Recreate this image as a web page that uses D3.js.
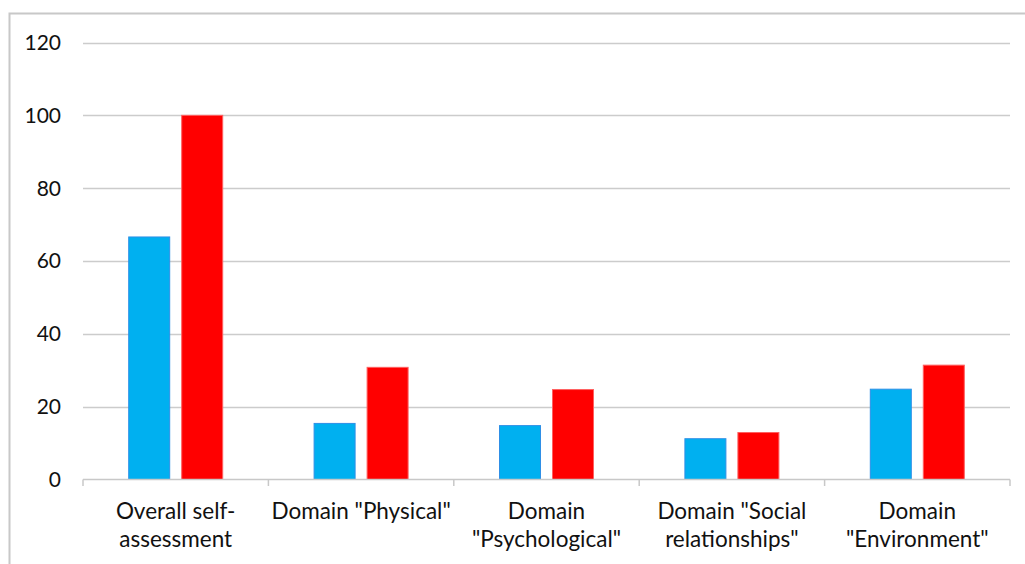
<!DOCTYPE html>
<html>
<head>
<meta charset="utf-8">
<script src="https://cdn.jsdelivr.net/npm/d3@7"></script>
<style>
  body { margin: 0; background: #fff; }
  svg text { font-family: Lato, "Open Sans", sans-serif; fill: #111; }
</style>
</head>
<body>
<script>
// chart data
var categories = [
  ["Overall self-", "assessment"],
  ["Domain \"Physical\""],
  ["Domain", "\"Psychological\""],
  ["Domain \"Social", "relationships\""],
  ["Domain", "\"Environment\""]
];
var seriesBlue = [66.6, 15.4, 14.8, 11.2, 24.8];
var seriesRed = [100, 30.8, 24.7, 12.9, 31.4];
var yTicks = [0, 20, 40, 60, 80, 100, 120];

var width = 1025,
    height = 564;

var svg = d3.select("body")
            .append("svg")
            .attr("width", width)
            .attr("height", height);

// outer frame (only top and left edges show)
svg.append("rect")
    .attr("x", 9.5)
    .attr("y", 13.5)
    .attr("width", 1030)
    .attr("height", 600)
    .style("fill", "none")
    .style("stroke", "#c8c8c8")
    .style("stroke-width", 2);

var x = d3.scaleBand()
    .domain(d3.range(categories.length))
    .range([83, 1010]);

var y = d3.scaleLinear()
    .domain([0, 120])
    .range([479.5, 42.5]);

// gridlines
svg.append("g")
    .selectAll("line")
    .data(yTicks.slice(1))
    .enter()
    .append("line")
    .attr("x1", 83)
    .attr("x2", 1010)
    .attr("y1", function(d) { return Math.round(y(d)) + 0.5; })
    .attr("y2", function(d) { return Math.round(y(d)) + 0.5; })
    .style("stroke", "#cccccc")
    .style("stroke-width", 1.5);

// y labels
svg.append("g")
    .selectAll("text")
    .data(yTicks)
    .enter()
    .append("text")
    .attr("x", 61)
    .attr("y", function(d) { return y(d); })
    .attr("dy", "0.35em")
    .attr("text-anchor", "end")
    .style("font-size", "21px")
    .text(function(d) { return d; });

// bars
var bw = 41;
var groups = svg.append("g")
    .selectAll("g")
    .data(categories)
    .enter()
    .append("g");

groups.append("rect")
    .attr("x", function(d, i) { return x(i) + x.bandwidth() / 2 - 6 - bw; })
    .attr("y", function(d, i) { return y(seriesBlue[i]); })
    .attr("width", bw)
    .attr("height", function(d, i) { return y(0) - y(seriesBlue[i]); })
    .style("fill", "#00b0f0")
    .style("stroke", "#2e8fe6")
    .style("stroke-width", 1);

groups.append("rect")
    .attr("x", function(d, i) { return x(i) + x.bandwidth() / 2 + 6; })
    .attr("y", function(d, i) { return y(seriesRed[i]); })
    .attr("width", bw)
    .attr("height", function(d, i) { return y(0) - y(seriesRed[i]); })
    .style("fill", "#ff0000")
    .style("stroke", "#ff6060")
    .style("stroke-width", 1);

// x axis line and ticks
svg.append("line")
    .attr("x1", 83)
    .attr("x2", 1010)
    .attr("y1", 479.5)
    .attr("y2", 479.5)
    .style("stroke", "#c8c8c8")
    .style("stroke-width", 1.5);

svg.append("g")
    .selectAll("line")
    .data(d3.range(categories.length + 1))
    .enter()
    .append("line")
    .attr("x1", function(d) { return 83 + d * x.bandwidth(); })
    .attr("x2", function(d) { return 83 + d * x.bandwidth(); })
    .attr("y1", 479.5)
    .attr("y2", 486)
    .style("stroke", "#c8c8c8")
    .style("stroke-width", 1.5);

// category labels
var lbl = svg.append("g")
    .selectAll("text")
    .data(categories)
    .enter()
    .append("text")
    .attr("text-anchor", "middle")
    .style("font-size", "22.5px");

lbl.selectAll("tspan")
    .data(function(d, i) { return d.map(function(s) { return { s: s, i: i }; }); })
    .enter()
    .append("tspan")
    .attr("x", function(d) { return x(d.i) + x.bandwidth() / 2; })
    .attr("y", function(d, j) { return 519 + j * 28; })
    .text(function(d) { return d.s; });
</script>
</body>
</html>
